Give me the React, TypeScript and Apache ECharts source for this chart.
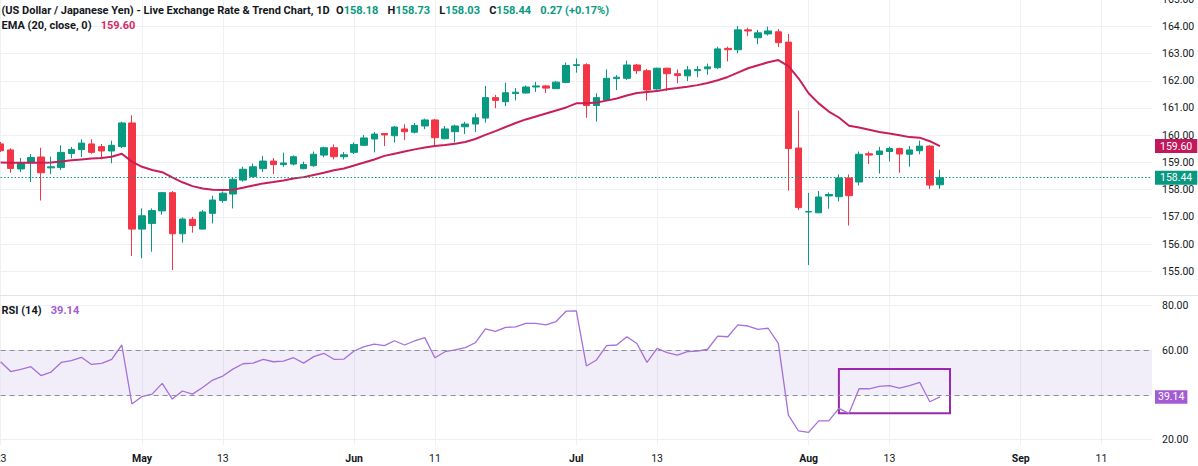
import React, { useEffect, useRef } from "react";
import * as echarts from "echarts";

// ---- data ----
// each candle: [open, high, low, close]
const candles: number[][] = [
  [159.68, 159.75, 159.38, 159.43],
  [159.46, 159.52, 158.62, 158.78],
  [158.76, 159.16, 158.65, 158.99],
  [158.99, 159.31, 158.28, 159.18],
  [159.2, 159.54, 157.6, 158.62],
  [158.8, 159.21, 158.57, 158.84],
  [158.81, 159.63, 158.72, 159.37],
  [159.33, 159.57, 159.15, 159.48],
  [159.47, 159.85, 159.2, 159.71],
  [159.68, 159.85, 159.32, 159.37],
  [159.58, 159.68, 159.11, 159.42],
  [159.42, 159.8, 158.97, 159.63],
  [159.58, 160.5, 159.53, 160.45],
  [160.45, 160.73, 155.56, 156.55],
  [156.55, 157.31, 155.48, 157.04],
  [156.76, 157.31, 155.72, 157.23],
  [157.22, 157.91, 157.08, 157.89],
  [157.89, 157.95, 155.05, 156.38],
  [156.38, 156.98, 156.05, 156.92],
  [156.91, 157.0, 156.42, 156.68],
  [156.55, 157.25, 156.54, 157.18],
  [157.13, 157.78, 156.76, 157.62],
  [157.6, 157.93, 157.52, 157.87],
  [157.84, 158.44, 157.31, 158.38],
  [158.35, 158.84, 158.29, 158.75],
  [158.48, 158.96, 158.45, 158.84],
  [158.77, 159.24, 158.65, 159.05],
  [159.05, 159.16, 158.57, 158.92],
  [158.92, 159.36, 158.84, 158.98],
  [158.94, 159.26, 158.89, 159.21],
  [158.77, 159.03, 158.75, 158.92],
  [158.88, 159.4, 158.84, 159.3],
  [159.27, 159.58, 159.19, 159.54],
  [159.54, 159.66, 159.11, 159.21],
  [159.21, 159.38, 159.11, 159.28],
  [159.37, 159.74, 159.31, 159.66],
  [159.63, 160.01, 159.6, 159.9],
  [159.86, 160.12, 159.37, 160.04],
  [160.06, 160.07, 159.6, 160.01],
  [159.98, 160.34, 159.73, 160.3],
  [160.23, 160.4, 159.82, 160.13],
  [160.11, 160.45, 160.06, 160.36],
  [160.34, 160.61, 160.22, 160.56],
  [160.56, 160.6, 159.6, 159.91],
  [159.87, 160.34, 159.85, 160.23],
  [160.13, 160.39, 159.73, 160.34],
  [160.31, 160.49, 160.04, 160.41],
  [160.41, 160.8, 160.12, 160.64],
  [160.63, 161.81, 160.46, 161.38],
  [161.38, 161.48, 160.99, 161.28],
  [161.23, 161.93, 161.07, 161.56],
  [161.53, 161.73, 161.28, 161.58],
  [161.55, 161.83, 161.53, 161.77],
  [161.77, 161.96, 161.59, 161.81],
  [161.81, 161.85, 161.55, 161.73],
  [161.71, 161.99, 161.7, 161.95],
  [161.94, 162.67, 161.91, 162.56],
  [162.56, 162.82, 162.3, 162.59],
  [162.59, 162.64, 160.64, 161.09],
  [161.09, 161.54, 160.5, 161.38],
  [161.29, 162.42, 161.27, 162.09],
  [162.08, 162.21, 161.66, 162.13],
  [162.09, 162.74, 162.03, 162.58],
  [162.58, 162.62, 162.25, 162.37],
  [162.37, 162.44, 161.27, 161.66],
  [161.7, 162.48, 161.67, 162.46],
  [162.46, 162.48, 161.62, 162.26],
  [162.26, 162.42, 161.91, 162.19],
  [162.18, 162.54, 161.99, 162.4],
  [162.37, 162.54, 162.13, 162.41],
  [162.44, 162.63, 162.22, 162.51],
  [162.48, 163.25, 162.43, 163.17],
  [163.19, 163.25, 162.71, 163.14],
  [163.14, 164.01, 163.01, 163.87],
  [163.87, 163.95, 163.64, 163.83],
  [163.58, 163.87, 163.34, 163.76],
  [163.72, 163.99, 163.66, 163.83],
  [163.8, 163.9, 163.24, 163.4],
  [163.42, 163.72, 157.96, 159.51],
  [159.53, 160.9, 157.25, 157.34],
  [157.18, 157.88, 155.23, 157.2],
  [157.15, 157.95, 157.14, 157.73],
  [157.77, 157.9, 157.3, 157.82],
  [157.74, 158.56, 157.57, 158.43],
  [158.43, 158.56, 156.68, 157.78],
  [158.28, 159.4, 158.15, 159.3],
  [159.32, 159.4, 158.94, 159.27],
  [159.29, 159.57, 158.59, 159.42],
  [159.4, 159.58, 159.03, 159.51],
  [159.51, 159.54, 158.62, 159.31],
  [159.3, 159.6, 158.84, 159.46],
  [159.43, 159.8, 159.3, 159.6],
  [159.6, 159.64, 158.02, 158.17],
  [158.18, 158.73, 158.03, 158.44],
];

const ema20: number[] = [
  159.0, 158.99, 158.99, 158.99, 158.99, 159.0, 159.03, 159.08, 159.11, 159.14,
  159.16, 159.21, 159.32, 159.03, 158.84, 158.72, 158.64, 158.45, 158.27, 158.13,
  158.04, 158.0, 157.99, 158.0, 158.07, 158.15, 158.23, 158.28, 158.34, 158.41,
  158.46, 158.54, 158.62, 158.71, 158.78, 158.89, 159.0, 159.11, 159.24, 159.32,
  159.4, 159.48, 159.55, 159.6, 159.64, 159.69, 159.75, 159.86, 160.01, 160.15,
  160.3, 160.45, 160.58, 160.69, 160.8, 160.91, 161.02, 161.17, 161.17, 161.2,
  161.27, 161.35, 161.46, 161.55, 161.59, 161.62, 161.69, 161.73, 161.78, 161.84,
  161.92, 162.02, 162.14, 162.3, 162.46, 162.57, 162.68, 162.76, 162.54, 162.09,
  161.54, 161.17, 160.87, 160.65, 160.35, 160.28, 160.2, 160.12, 160.06, 160.0,
  159.93, 159.91, 159.78, 159.6,
];

const rsi14: number[] = [
  54.9, 50.5, 51.5, 52.7, 48.7, 50.3, 54.6, 55.4, 56.9, 53.7,
  54.2, 56.0, 62.4, 36.0, 39.3, 40.4, 45.2, 38.2, 41.8, 40.4,
  43.4, 46.7, 48.5, 51.6, 54.0, 54.3, 56.0, 54.9, 55.2, 56.7,
  54.3, 57.2, 58.7, 56.0, 56.1, 59.7, 61.7, 62.8, 62.1, 64.3,
  62.4, 64.3, 65.7, 56.7, 59.4, 60.2, 61.2, 63.4, 69.6, 68.5,
  70.3, 70.5, 72.1, 72.1, 71.4, 72.9, 77.6, 77.7, 53.0, 55.7,
  62.1, 62.4, 66.1, 63.1, 54.6, 60.9, 59.0, 57.9, 59.4, 59.7,
  60.5, 66.4, 66.1, 71.4, 70.9, 69.4, 69.9, 63.1, 31.0, 23.9,
  23.3, 28.4, 28.4, 34.0, 31.8, 42.8, 42.8, 43.9, 44.2, 43.1,
  44.2, 45.7, 37.0, 39.14,
];

// time-axis tick labels: [slot index, text, bold]
const xTicks: [number, string, boolean][] = [
  [0, "23", false],
  [14, "May", true],
  [22, "13", false],
  [35, "Jun", true],
  [43, "11", false],
  [57, "Jul", true],
  [65, "13", false],
  [80, "Aug", true],
  [88, "13", false],
  [101, "Sep", true],
  [109, "11", false],
];

const rsiBands = [40, 60];
const annotationBox = { from: "83", to: "94", top: 51.65, bottom: 31.8 };
const TOTAL_SLOTS = 115;
const categories = Array.from({ length: TOTAL_SLOTS }, (_, i) => String(i));

const UP = "#089981";
const DOWN = "#f23645";
const EMA_C = "#c81e5a";
const RSI_C = "#a66fdc";
const TEXT = "#131722";
const GRID_C = "#eef0f5";
const FONT = "Roboto, 'Noto Sans', sans-serif";

export default function App() {
  const ref = useRef<HTMLDivElement>(null);

  useEffect(() => {
    if (!ref.current) return;
    const chart = echarts.init(ref.current, undefined, { renderer: "svg" });

    const last = candles[candles.length - 1];
    const prevClose = candles[candles.length - 2][3];
    const chg = last[3] - prevClose;
    const pct = (chg / prevClose) * 100;
    const lastEma = ema20[ema20.length - 1];
    const lastRsi = rsi14[rsi14.length - 1];

    const tickMap = new Map<number, [string, boolean]>();
    xTicks.forEach(([i, t, b]) => tickMap.set(i, [t, b]));
    const isTick = (i: number) => tickMap.has(i);

    const header =
      "{t|(US Dollar / Japanese Yen) - Live Exchange Rate & Trend Chart, 1D}  " +
      `{t|O}{g|${last[0].toFixed(2)}}   {t|H}{g|${last[1].toFixed(2)}}   ` +
      `{t|L}{g|${last[2].toFixed(2)}}   {t|C}{g|${last[3].toFixed(2)}}   ` +
      `{g|${chg.toFixed(2)} (${chg >= 0 ? "+" : ""}${pct.toFixed(2)}%)}`;

    const baseRich = {
      t: { color: TEXT, fontSize: 11, fontFamily: FONT },
      g: { color: UP, fontSize: 11, fontFamily: FONT },
      e: { color: "#d42a63", fontSize: 11, fontFamily: FONT },
      r: { color: "#a35bd3", fontSize: 11, fontFamily: FONT },
    };

    const priceBox = (bg: string, txt: string) => ({
      show: true,
      position: "end",
      distance: 3,
      formatter: txt,
      color: "#ffffff",
      backgroundColor: bg,
      padding: [2, 5, 1, 5],
      fontSize: 10.5,
      fontFamily: FONT,
      lineHeight: 11,
    });

    const option: any = {
      animation: false,
      backgroundColor: "#ffffff",
      title: [
        { text: header, left: 1.5, top: 5, padding: 0, textStyle: { rich: baseRich, fontSize: 11 } },
        {
          text: `{t|EMA (20, close, 0)}   {e|${lastEma.toFixed(2)}}`,
          left: 1.5,
          top: 19.5,
          padding: 0,
          textStyle: { rich: baseRich, fontSize: 11 },
        },
        {
          text: `{t|RSI (14)}   {r|${lastRsi.toFixed(2)}}`,
          left: 1.5,
          top: 304.5,
          padding: 0,
          textStyle: { rich: baseRich, fontSize: 11 },
        },
      ],
      grid: [
        { left: 0.6, right: 46, top: -0.9, height: 295.9, outerBoundsMode: "none", containLabel: false },
        { left: 0.6, right: 46, top: 295, height: 150, outerBoundsMode: "none", containLabel: false },
      ],
      xAxis: [
        {
          type: "category",
          gridIndex: 0,
          data: categories,
          boundaryGap: false,
          axisLine: { show: false },
          axisTick: { show: false },
          axisLabel: { show: false },
          splitLine: { show: true, interval: (i: number) => isTick(i), lineStyle: { color: GRID_C, width: 1 } },
        },
        {
          type: "category",
          gridIndex: 1,
          data: categories,
          boundaryGap: false,
          axisLine: { show: false },
          axisTick: { show: false },
          axisLabel: {
            show: true,
            interval: (i: number) => isTick(i),
            margin: 8,
            formatter: (v: string) => {
              const m = tickMap.get(Number(v));
              if (!m) return "";
              return m[1] ? `{b|${m[0]}}` : `{n|${m[0]}}`;
            },
            rich: {
              b: { fontWeight: "bold", color: TEXT, fontSize: 10.5, fontFamily: FONT },
              n: { color: TEXT, fontSize: 10.5, fontFamily: FONT },
            },
          },
          splitLine: { show: true, interval: (i: number) => isTick(i), lineStyle: { color: GRID_C, width: 1 } },
        },
      ],
      yAxis: [
        {
          type: "value",
          gridIndex: 0,
          position: "right",
          min: 154.13,
          max: 165,
          minInterval: 1,
          maxInterval: 1,
          splitNumber: 11,
          scale: true,
          axisLine: { show: false },
          axisTick: { show: false },
          axisLabel: {
            showMinLabel: false,
            margin: 10,
            color: TEXT,
            fontSize: 10.5,
            fontFamily: FONT,
            formatter: (v: number) => v.toFixed(2),
          },
          splitLine: { show: true, showMinLine: false, lineStyle: { color: GRID_C, width: 1 } },
        },
        {
          type: "value",
          gridIndex: 1,
          position: "right",
          min: 17.62,
          max: 84.79,
          minInterval: 20,
          maxInterval: 20,
          splitNumber: 4,
          scale: true,
          axisLine: { show: false },
          axisTick: { show: false },
          axisLabel: {
            showMinLabel: false,
            showMaxLabel: false,
            margin: 10,
            color: TEXT,
            fontSize: 10.5,
            fontFamily: FONT,
            formatter: (v: number) => (Math.abs(v - 40) < 0.01 ? "" : v.toFixed(2)),
          },
          splitLine: { show: true, showMinLine: false, showMaxLine: false, lineStyle: { color: GRID_C, width: 1 } },
        },
      ],
      graphic: [
        {
          type: "line",
          shape: { x1: 0, y1: 295.5, x2: 1198, y2: 295.5 },
          style: { stroke: "#e0e3eb", lineWidth: 1 },
          z: 10,
        },
      ],
      series: [
        {
          type: "candlestick",
          name: "USDJPY",
          xAxisIndex: 0,
          yAxisIndex: 0,
          barWidth: 7,
          data: candles.map(([o, h, l, c]) => [o, c, l, h]),
          itemStyle: {
            color: UP,
            color0: DOWN,
            borderColor: UP,
            borderColor0: DOWN,
            borderColorDoji: UP,
            borderWidth: 1,
          },
          markLine: {
            silent: true,
            symbol: ["none", "none"],
            animation: false,
            data: [
              {
                yAxis: last[3],
                lineStyle: { color: UP, type: [1.5, 2], width: 1 },
                label: priceBox(UP, last[3].toFixed(2)),
              },
            ],
          },
        },
        {
          type: "line",
          name: "EMA",
          xAxisIndex: 0,
          yAxisIndex: 0,
          data: ema20,
          showSymbol: false,
          symbol: "none",
          lineStyle: { color: EMA_C, width: 2 },
          z: 3,
          markLine: {
            silent: true,
            symbol: ["none", "none"],
            animation: false,
            data: [
              {
                yAxis: lastEma,
                lineStyle: { color: "rgba(0,0,0,0)", width: 0 },
                label: priceBox("#c2185b", lastEma.toFixed(2)),
              },
            ],
          },
        },
        {
          type: "line",
          name: "RSI",
          xAxisIndex: 1,
          yAxisIndex: 1,
          data: rsi14,
          showSymbol: false,
          symbol: "none",
          lineStyle: { color: RSI_C, width: 1.3 },
          z: 3,
          markArea: {
            silent: true,
            data: [
              [
                { yAxis: rsiBands[0], itemStyle: { color: "rgba(126,87,194,0.1)" } },
                { yAxis: rsiBands[1] },
              ],
              [
                {
                  xAxis: annotationBox.from,
                  yAxis: annotationBox.top,
                  itemStyle: { color: "rgba(0,0,0,0)", borderColor: "#9c27b0", borderWidth: 2 },
                },
                { xAxis: annotationBox.to, yAxis: annotationBox.bottom },
              ],
            ],
          },
          markLine: {
            silent: true,
            symbol: ["none", "none"],
            animation: false,
            label: { show: false },
            data: [
              ...rsiBands.map((b) => ({
                yAxis: b,
                lineStyle: { color: "#8c8f99", type: [5, 4], width: 1 },
                label: { show: false },
              })),
              {
                yAxis: lastRsi,
                lineStyle: { color: "rgba(0,0,0,0)", width: 0 },
                label: { ...priceBox("#a35bd3", lastRsi.toFixed(2)), padding: [1.5, 3, 1, 3] },
              },
            ],
          },
        },
      ],
    };

    chart.setOption(option);
    return () => chart.dispose();
  }, []);

  return (
    <div
      ref={ref}
      style={{ position: "fixed", left: 0, top: 0, width: 1198, height: 466, background: "#ffffff" }}
    />
  );
}
